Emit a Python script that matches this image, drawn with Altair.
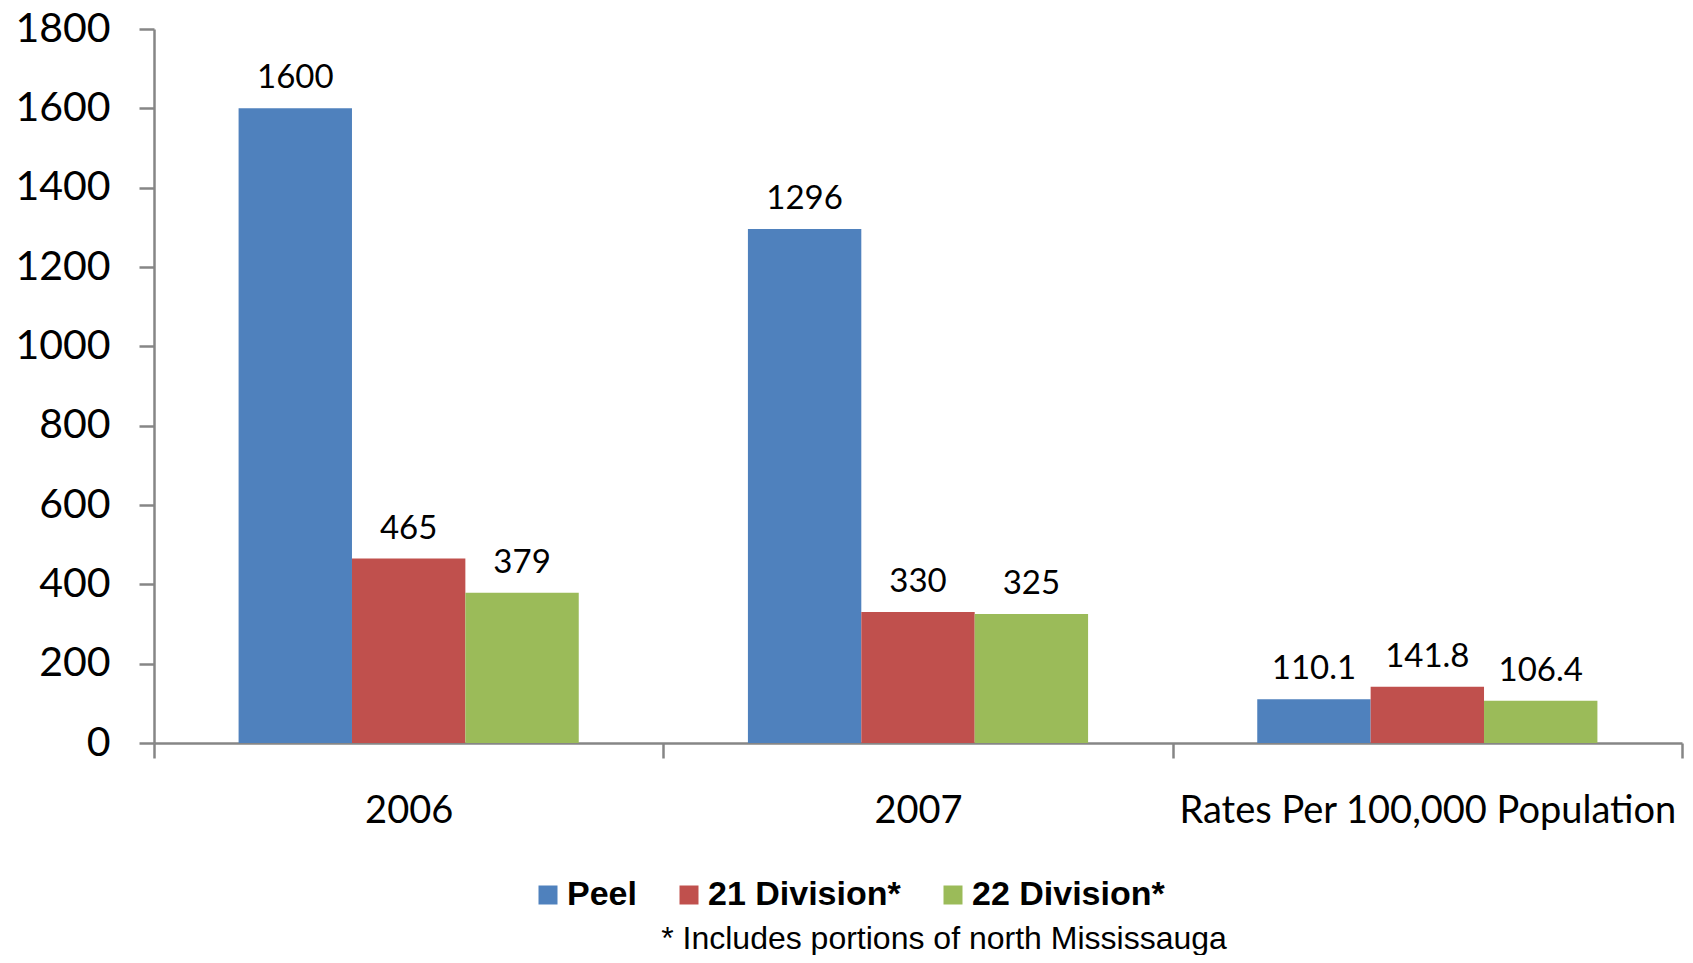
import altair as alt
import pandas as pd

categories = ["2006", "2007", "Rates Per 100,000 Population"]
series = ["Peel", "21 Division*", "22 Division*"]
colors = ["#4F81BD", "#C0504D", "#9BBB59"]
peel = [1600, 1296, 110.1]
div21 = [465, 330, 141.8]
div22 = [379, 325, 106.4]
y_ticks = [0, 200, 400, 600, 800, 1000, 1200, 1400, 1600, 1800]
footnote = "* Includes portions of north Mississauga"


def fmt(v):
    return str(int(v)) if float(v).is_integer() else str(v)


rows = []
for name, vals in zip(series, [peel, div21, div22]):
    for cat, v in zip(categories, vals):
        rows.append({"category": cat, "series": name, "value": v, "label": fmt(v)})
df = pd.DataFrame(rows)

axis_color = "#868686"
x_enc = alt.X(
    "category:N",
    sort=categories,
    scale=alt.Scale(paddingInner=0, paddingOuter=0),
    axis=alt.Axis(
        title=None, labelAngle=0, tickBand="extent", labelFont="Lato", labelLimit=0,
        labelFontSize=38, labelColor="black", labelPadding=34, tickSize=15,
        domainColor=axis_color, tickColor=axis_color, domainWidth=2.5, tickWidth=2.5,
    ),
)
xoff = alt.XOffset("series:N", sort=series,
                   scale=alt.Scale(paddingInner=0, paddingOuter=0.746))
y_enc = alt.Y(
    "value:Q",
    scale=alt.Scale(domain=[0, 1800], nice=False),
    axis=alt.Axis(
        title=None, values=y_ticks, format="d", grid=False, labelFont="Lato", labelFontSize=41,
        labelColor="black", labelPadding=29, tickSize=15,
        domainColor=axis_color, tickColor=axis_color, domainWidth=2.5, tickWidth=2.5,
    ),
)

base = alt.Chart(df)
bars = base.mark_bar().encode(
    x=x_enc,
    xOffset=xoff,
    y=y_enc,
    color=alt.Color(
        "series:N",
        sort=series,
        scale=alt.Scale(domain=series, range=colors),
        legend=alt.Legend(
            title=None, orient="none", legendX=377, legendY=849, direction="horizontal",
            symbolType="square", symbolSize=361, symbolStrokeWidth=0, labelLimit=0,
            labelFont="Liberation Sans Narrow, Liberation Sans", labelFontWeight="bold",
            labelFontSize=34, labelColor="black", columnPadding=35, labelOffset=2,
        ),
    ),
)
texts = base.mark_text(
    baseline="alphabetic", dy=-20, font="Lato", fontSize=33, color="black"
).encode(x=x_enc, xOffset=xoff, y=y_enc, text="label:N")

note = alt.Chart(pd.DataFrame({"t": [footnote]})).mark_text(
    font="Liberation Sans", fontSize=32, color="black", align="center", baseline="alphabetic"
).encode(x=alt.value(790), y=alt.value(920), text="t:N")

chart = alt.layer(bars, texts, note).properties(
    width=1528,
    height=714,
    autosize=alt.AutoSizeParams(type="none"),
    padding={"left": 146, "top": 21, "right": 3, "bottom": 212},
    background="white",
).configure_view(stroke=None)

chart.save("out.html", embed_options={"renderer": "svg", "actions": False})
